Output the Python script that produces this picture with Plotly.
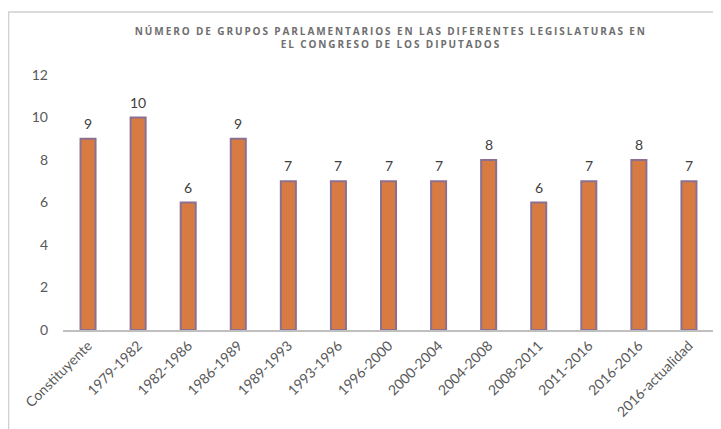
import plotly.graph_objects as go

categories = ["Constituyente", "1979-1982", "1982-1986", "1986-1989", "1989-1993",
              "1993-1996", "1996-2000", "2000-2004", "2004-2008", "2008-2011",
              "2011-2016", "2016-2016", "2016-actualidad"]
grupos = [9, 10, 6, 9, 7, 7, 7, 7, 8, 6, 7, 8, 7]
y_ticks = [0, 2, 4, 6, 8, 10, 12]

title_text = ("NÚMERO DE GRUPOS PARLAMENTARIOS EN LAS DIFERENTES LEGISLATURAS EN"
              "<br>EL CONGRESO DE LOS DIPUTADOS")

fig = go.Figure()
fig.add_trace(go.Bar(
    x=categories, y=grupos,
    marker=dict(color="#D87B43", line=dict(color="#8C7090", width=2)),
    cliponaxis=False,
))

annotations = [dict(x=c, y=v, text=str(v), showarrow=False, xref="x", yref="y",
                    yanchor="bottom", yshift=5,
                    font=dict(family="Lato", size=14, color="#404040"))
               for c, v in zip(categories, grupos)]

fig.update_layout(
    width=713, height=421,
    margin=dict(l=54.5, r=7, t=67, b=99, autoexpand=False),
    paper_bgcolor="white", plot_bgcolor="white",
    bargap=0.7,
    showlegend=False,
    annotations=annotations,
    title=dict(text=title_text, x=0.537, xanchor="center", y=0.936, yanchor="top",
               font=dict(family="Open Sans", size=10, color="#6E6E6E", weight="bold")),
    xaxis=dict(showline=True, linecolor="#BFBFBF", linewidth=2, tickangle=-45,
               ticks="", showgrid=False, automargin=False,
               tickfont=dict(family="Lato", size=14, color="#595959")),
    yaxis=dict(range=[0, 12], tickvals=y_ticks, showgrid=False, zeroline=False,
               showline=False, ticklabelstandoff=14, automargin=False,
               tickfont=dict(family="Lato", size=14, color="#595959")),
    shapes=[dict(type="rect", xref="paper", yref="paper",
                 x0=-0.0837, x1=1.2, y0=-0.5, y1=1.247,
                 line=dict(color="#D0D0D0", width=1.5), layer="below")],
)

post = """
var gd = document.getElementsByClassName('plotly-graph-div')[0];
function spaceTitle(){
  document.querySelectorAll('.gtitle').forEach(function(e){ e.style.letterSpacing='1.9px'; });
}
spaceTitle();
gd.on('plotly_afterplot', spaceTitle);
"""

fig.write_html("out.html", post_script=post)
